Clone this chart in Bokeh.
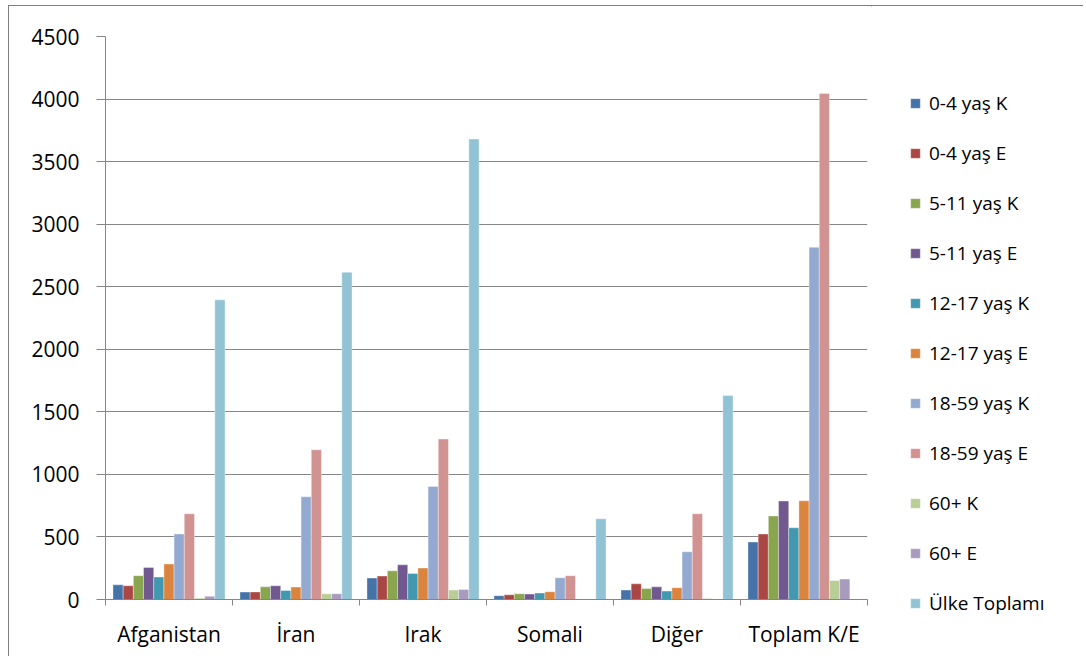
from bokeh.plotting import figure
from bokeh.layouts import row
from bokeh.models import FixedTicker, Legend, LegendItem, ColumnDataSource, Range1d
from bokeh.transform import dodge
from bokeh.embed import file_html
from bokeh.resources import INLINE

categories = ["Afganistan", "İran", "Irak", "Somali", "Diğer", "Toplam K/E"]
series_names = ["0-4 yaş K", "0-4 yaş E", "5-11 yaş K", "5-11 yaş E",
                "12-17 yaş K", "12-17 yaş E", "18-59 yaş K", "18-59 yaş E",
                "60+ K", "60+ E", "Ülke Toplamı"]
colors = ["#4572A7", "#AA4643", "#89A54E", "#71588F", "#4198AF", "#DB843D",
          "#93A9CF", "#D19392", "#B9CD96", "#A99BBD", "#92C3D5"]

v_04_K = [117, 59, 171, 30, 75, 459]
v_04_E = [110, 60, 187, 37, 125, 523]
v_511_K = [190, 101, 229, 46, 88, 667]
v_511_E = [256, 110, 277, 43, 101, 787]
v_1217_K = [179, 72, 208, 51, 67, 573]
v_1217_E = [283, 99, 251, 62, 94, 789]
v_1859_K = [523, 821, 903, 173, 381, 2815]
v_1859_E = [685, 1197, 1282, 190, 685, 4045]
v_60_K = [10, 46, 75, 3, 8, 152]
v_60_E = [25, 46, 80, 1, 3, 163]
v_ulke = [2395, 2615, 3680, 645, 1631, 0]

y_ticks = [0, 500, 1000, 1500, 2000, 2500, 3000, 3500, 4000, 4500]

all_series = [v_04_K, v_04_E, v_511_K, v_511_E, v_1217_K, v_1217_E,
              v_1859_K, v_1859_E, v_60_K, v_60_E, v_ulke]

data = {"x": [i + 0.5 for i in range(len(categories))]}
for j, s in enumerate(all_series):
    data["s%d" % j] = s
source = ColumnDataSource(data)

FONT = "Open Sans"
GRID = "#868686"

p = figure(width=862, height=650, output_backend="svg", toolbar_location=None,
           x_range=Range1d(0, len(categories)), y_range=Range1d(0, 4500),
           min_border_left=96, min_border_top=30, min_border_bottom=57,
           min_border_right=4)
p.outline_line_color = None
p.background_fill_color = "white"
p.border_fill_color = "white"

n = len(series_names)
bw = 0.0802
for j in range(n):
    off = (j - (n - 1) / 2) * bw
    p.vbar(x=dodge("x", off, range=p.x_range), top="s%d" % j, width=bw,
           source=source, fill_color=colors[j], line_color="white",
           line_alpha=0.35, line_width=1)

# axes
p.xgrid.grid_line_color = None
p.ygrid.grid_line_color = GRID
p.ygrid.grid_line_width = 1
p.ygrid.ticker = FixedTicker(ticks=y_ticks)

p.yaxis.ticker = FixedTicker(ticks=y_ticks)
p.yaxis.axis_line_color = GRID
p.yaxis.major_tick_line_color = GRID
p.yaxis.major_tick_out = 9
p.yaxis.major_tick_in = 0
p.yaxis.minor_tick_line_color = None
p.yaxis.major_label_standoff = 17
p.yaxis.major_label_text_font = FONT
p.yaxis.major_label_text_font_size = "21px"
p.yaxis.major_label_text_color = "black"

centers = [i + 0.5 for i in range(len(categories))]
bounds = list(range(len(categories) + 1))
p.xaxis.ticker = FixedTicker(ticks=centers, minor_ticks=bounds)
p.xaxis.major_label_overrides = {c: lab for c, lab in zip(centers, categories)}
p.xaxis.axis_line_color = GRID
p.xaxis.major_tick_line_color = None
p.xaxis.major_tick_out = 0
p.xaxis.major_tick_in = 0
p.xaxis.minor_tick_line_color = GRID
p.xaxis.minor_tick_out = 6
p.xaxis.minor_tick_in = 0
p.xaxis.major_label_standoff = 14
p.xaxis.major_label_text_font = FONT
p.xaxis.major_label_text_font_size = "21px"
p.xaxis.major_label_text_color = "black"

# legend panel (same data source; its ranges keep the proxy bars out of view)
q = figure(width=212, height=650, output_backend="svg", toolbar_location=None,
           x_range=Range1d(100, 101), y_range=Range1d(-2, -1),
           x_axis_location=None, y_axis_location=None,
           min_border_left=0, min_border_right=0, min_border_top=0, min_border_bottom=0)
if hasattr(q, "frame_align"):
    q.frame_align = False
    p.frame_align = False
q.outline_line_color = None
q.grid.grid_line_color = None
q.border_fill_color = "white"
items = []
for j in range(n):
    r = q.vbar(x="x", top="s%d" % j, width=bw, source=source,
               fill_color=colors[j], line_color="white", line_alpha=0.35)
    items.append(LegendItem(label=series_names[j], renderers=[r]))

legend = Legend(items=items, location=(38, 40), glyph_width=12, glyph_height=12,
                label_standoff=8, label_height=26, spacing=24, padding=0, margin=0,
                border_line_color=None, background_fill_alpha=0,
                label_text_font=FONT, label_text_font_size="19px",
                label_text_color="black")
q.add_layout(legend)

layout = row(p, q)
layout.styles = {"margin-left": "8px", "margin-top": "5px",
                 "border-left": "1px solid #7f7f7f", "border-top": "1px solid #7f7f7f"}

open("out.html", "w").write(file_html(layout, INLINE))
